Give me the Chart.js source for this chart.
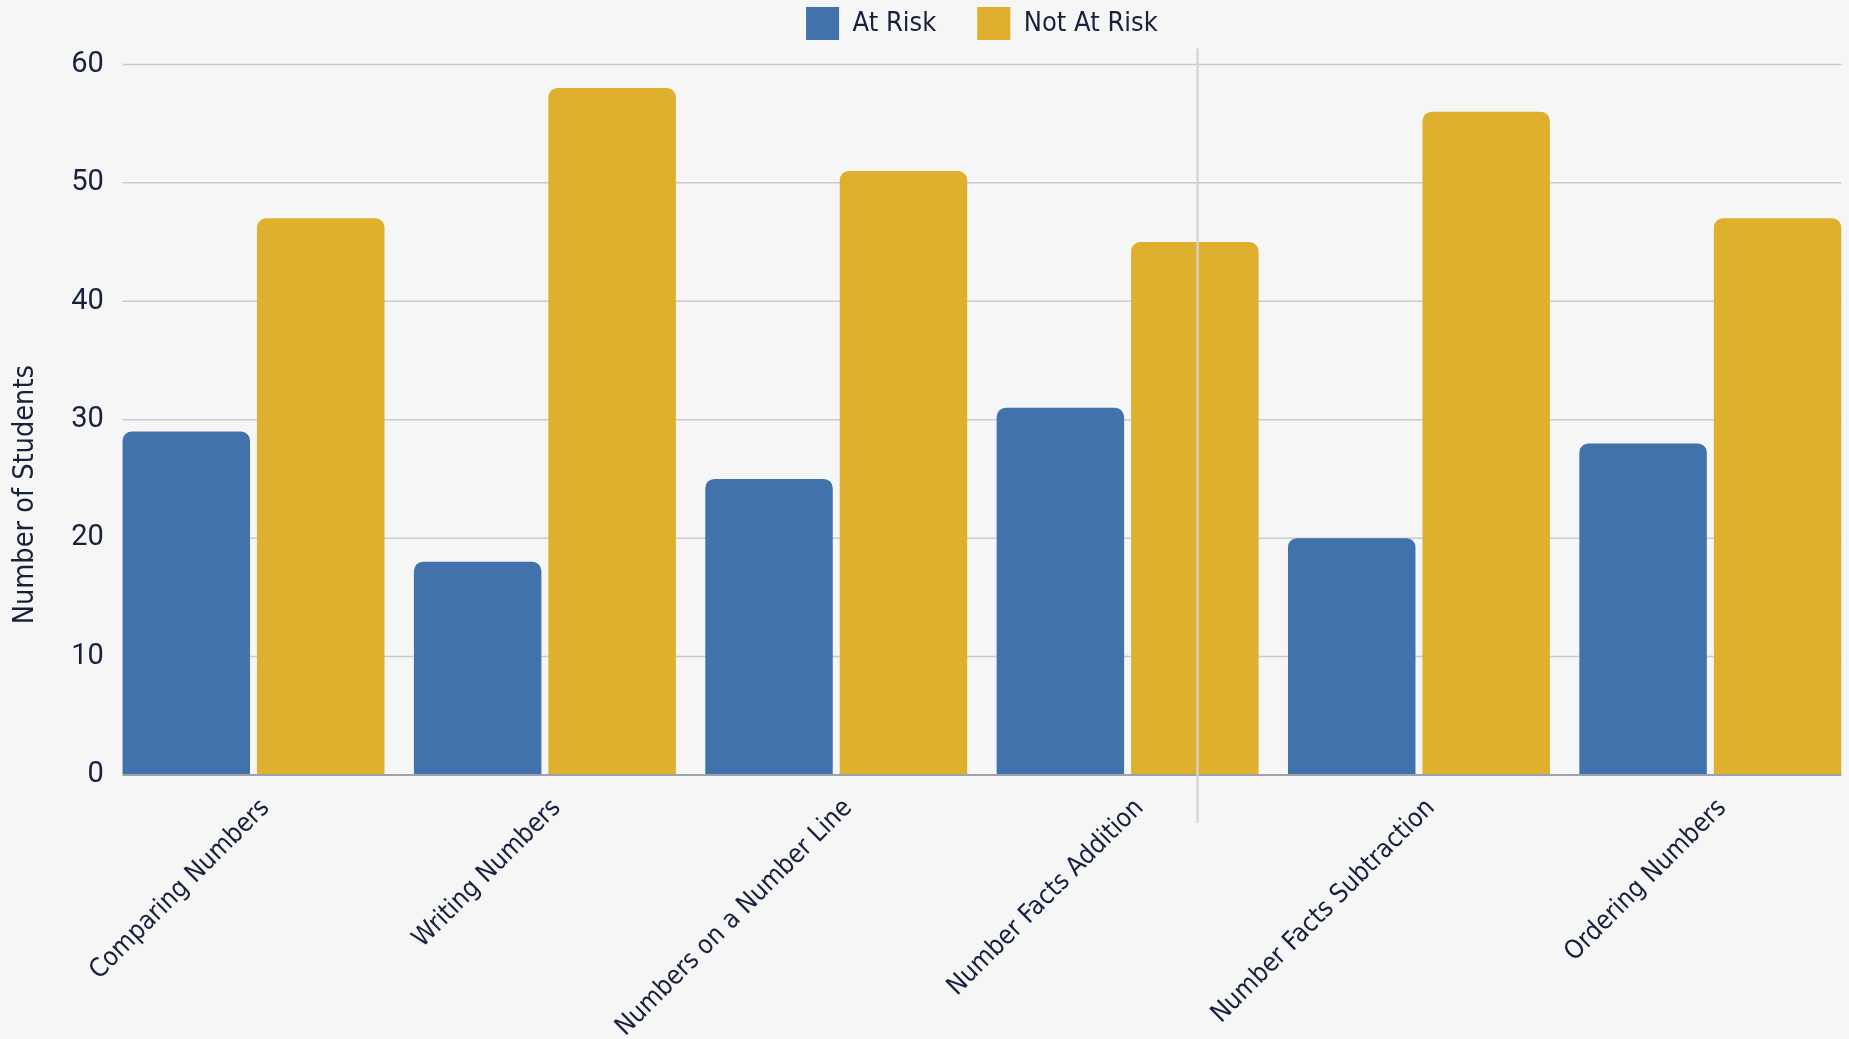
<!DOCTYPE html>
<html>
<head>
<meta charset="utf-8">
<title>Number of Students by Skill</title>
<script src="https://cdn.jsdelivr.net/npm/chart.js@4.4.1/dist/chart.umd.min.js"></script>
<style>
  html, body { margin: 0; padding: 0; background: #f6f6f6; overflow: hidden; }
  #wrap { position: relative; width: 1856px; height: 1039px; }
</style>
</head>
<body>
<div id="wrap"><canvas id="chart"></canvas></div>
<script>
// Skill areas along the x axis
const categories = [
  'Comparing Numbers',
  'Writing Numbers',
  'Numbers on a Number Line',
  'Number Facts Addition',
  'Number Facts Subtraction',
  'Ordering Numbers'
];

// Student counts per skill
const atRisk    = [29, 18, 25, 31, 20, 28];
const notAtRisk = [47, 58, 51, 45, 56, 47];

// Value axis ticks
const yTicks = [0, 10, 20, 30, 40, 50, 60];

// Position of the hover guide line, in category units
const hoverAt = 3.24;

const INK = '#17213d';
const NARROW = "'DejaVu Sans Condensed', 'Roboto', sans-serif";

// Horizontal grid limited to the span of the bars, zero line, hover guide and y title
const frame = {
  id: 'frame',
  _span(chart) {
    const first = chart.getDatasetMeta(0).data[0];
    const lastMeta = chart.getDatasetMeta(chart.data.datasets.length - 1);
    const last = lastMeta.data[lastMeta.data.length - 1];
    return [first.x - first.width / 2, last.x + last.width / 2];
  },
  beforeDatasetsDraw(chart) {
    const { ctx, scales: { y } } = chart;
    const [x0, x1] = this._span(chart);
    ctx.save();
    ctx.strokeStyle = 'rgba(196,199,205,0.95)';
    ctx.lineWidth = 1.5;
    y.ticks.forEach(t => {
      if (t.value === 0) return;
      const py = y.getPixelForValue(t.value);
      ctx.beginPath();
      ctx.moveTo(x0, py);
      ctx.lineTo(x1, py);
      ctx.stroke();
    });
    ctx.restore();
  },
  afterDatasetsDraw(chart) {
    const { ctx, chartArea, scales: { x, y } } = chart;
    const [x0, x1] = this._span(chart);
    ctx.save();
    // baseline at zero
    ctx.strokeStyle = '#9da3ae';
    ctx.lineWidth = 2;
    const py = y.getPixelForValue(0);
    ctx.beginPath();
    ctx.moveTo(x0, py);
    ctx.lineTo(x1, py);
    ctx.stroke();
    // hover guide
    const gx = x.getPixelForValue(hoverAt);
    ctx.strokeStyle = 'rgba(212,212,212,0.9)';
    ctx.lineWidth = 2.5;
    ctx.beginPath();
    ctx.moveTo(gx, chartArea.top - 16);
    ctx.lineTo(gx, chartArea.bottom + 48);
    ctx.stroke();
    ctx.restore();
  },
  afterDraw(chart) {
    const { ctx, chartArea, scales: { y } } = chart;
    ctx.save();
    ctx.fillStyle = INK;
    ctx.font = '28.6px ' + NARROW;
    ctx.textAlign = 'center';
    ctx.textBaseline = 'middle';
    ctx.translate(y.left + 26, (chartArea.top + chartArea.bottom) / 2 + 75);
    ctx.rotate(-Math.PI / 2);
    ctx.fillText('Number of Students', 0, 0);
    ctx.restore();
  }
};

new Chart(document.getElementById('chart'), {
  type: 'bar',
  data: {
    labels: categories,
    datasets: [
      {
        label: 'At Risk',
        data: atRisk,
        backgroundColor: '#4272ac',
        borderRadius: { topLeft: 9, topRight: 9, bottomLeft: 0, bottomRight: 0 },
        borderSkipped: 'start',
        categoryPercentage: 0.923,
        barPercentage: 0.948
      },
      {
        label: 'Not At Risk',
        data: notAtRisk,
        backgroundColor: '#deb02e',
        borderRadius: { topLeft: 9, topRight: 9, bottomLeft: 0, bottomRight: 0 },
        borderSkipped: 'start',
        categoryPercentage: 0.923,
        barPercentage: 0.948
      }
    ]
  },
  options: {
    responsive: true,
    maintainAspectRatio: false,
    animation: false,
    events: [],
    layout: { padding: { top: -34, left: 0, right: 0, bottom: 0 } },
    plugins: {
      legend: {
        position: 'top',
        fullSize: false,
        labels: {
          boxWidth: 33,
          boxHeight: 33,
          padding: 41,
          color: INK,
          font: { family: NARROW, size: 27 }
        }
      },
      title: {
        display: true,
        text: '',
        weight: 500,
        padding: 0,
        font: { size: 12, lineHeight: 1.2 }
      },
      tooltip: { enabled: false }
    },
    scales: {
      x: {
        offset: true,
        grid: { display: false, drawTicks: false },
        border: { display: false },
        ticks: {
          autoSkip: false,
          minRotation: 45,
          maxRotation: 45,
          padding: 12,
          labelOffset: 12,
          color: INK,
          font: { family: NARROW, size: 26, lineHeight: 1.85 }
        },
        afterFit(scale) { scale.height = 264; }
      },
      y: {
        min: 0,
        max: 60,
        grid: { display: false, drawTicks: false },
        border: { display: false },
        ticks: {
          padding: 4,
          color: INK,
          font: { family: 'Roboto', size: 29 }
        },
        afterBuildTicks(scale) { scale.ticks = yTicks.map(v => ({ value: v })); },
        afterFit(scale) { scale.width = 107.85; }
      }
    }
  },
  plugins: [frame]
});
</script>
</body>
</html>
